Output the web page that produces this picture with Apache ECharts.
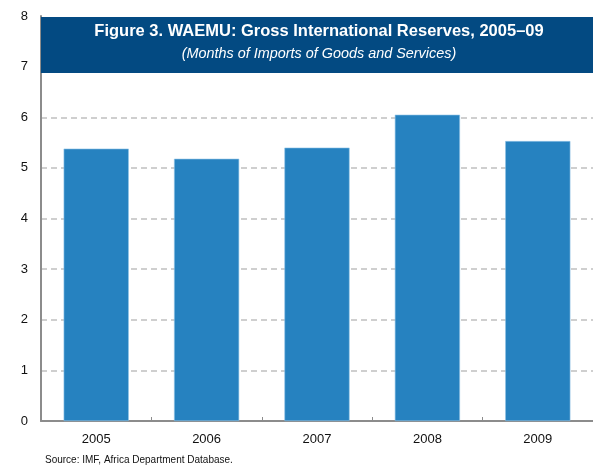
<!DOCTYPE html>
<html><head><meta charset="utf-8">
<script src="https://cdn.jsdelivr.net/npm/echarts@6/dist/echarts.min.js"></script>
<style>html,body{margin:0;padding:0;background:#fff}#c{width:593px;height:466px}</style>
</head><body><div id="c"></div>
<script>
const categories = ['2005','2006','2007','2008','2009'];
const reserves = [5.38, 5.18, 5.40, 6.05, 5.53];
const yTicks = [0,1,2,3,4,5,6,7,8];
const titleText = 'Figure 3. WAEMU: Gross International Reserves, 2005\u201309';
const subtitleText = '(Months of Imports of Goods and Services)';
const sourceText = 'Source: IMF, Africa Department Database.';

const chart = echarts.init(document.getElementById('c'), null, {renderer:'canvas'});
chart.setOption({
  animation:false,
  grid:{left:41, right:-6, top:16, bottom:45, containLabel:false},
  xAxis:{type:'category', data:categories,
    axisLine:{lineStyle:{color:'#8c8c8c', width:2}},
    axisTick:{show:true, inside:true, length:4, alignWithLabel:false, lineStyle:{color:'#8c8c8c'}},
    axisLabel:{color:'#111', fontSize:13, fontFamily:'Liberation Sans, Arial', margin:12}
  },
  yAxis:{type:'value', min:yTicks[0], max:yTicks[yTicks.length-1], interval:1,
    axisLine:{show:true, lineStyle:{color:'#8c8c8c', width:2}},
    axisTick:{show:false},
    splitLine:{showMaxLine:false, lineStyle:{color:'#c0c0c0', type:[6,4], width:1.5}},
    axisLabel:{color:'#111', fontSize:13, fontFamily:'Liberation Sans, Arial', margin:13}
  },
  series:[{type:'bar', data:reserves, barWidth:'59%',
    itemStyle:{color:'#2682c0', borderColor:'#8ec3e6', borderWidth:0.6}}],
  graphic:[
    {type:'rect', left:41, top:17, shape:{width:560, height:56}, style:{fill:'#034a82'}, z:100},
    {type:'text', z:101, style:{x:319, y:23, text:titleText, fill:'#fff', align:'center', verticalAlign:'top',
      font:'bold 16.5px "Liberation Sans", Arial'}},
    {type:'text', z:101, style:{x:319, y:47, text:subtitleText, fill:'#fff', align:'center', verticalAlign:'top',
      font:'italic 14.4px "Liberation Sans", Arial'}},
    {type:'text', left:45, top:455, z:101, style:{text:sourceText, fill:'#111',
      font:'10px "Liberation Sans", Arial'}}
  ]
});
</script></body></html>
